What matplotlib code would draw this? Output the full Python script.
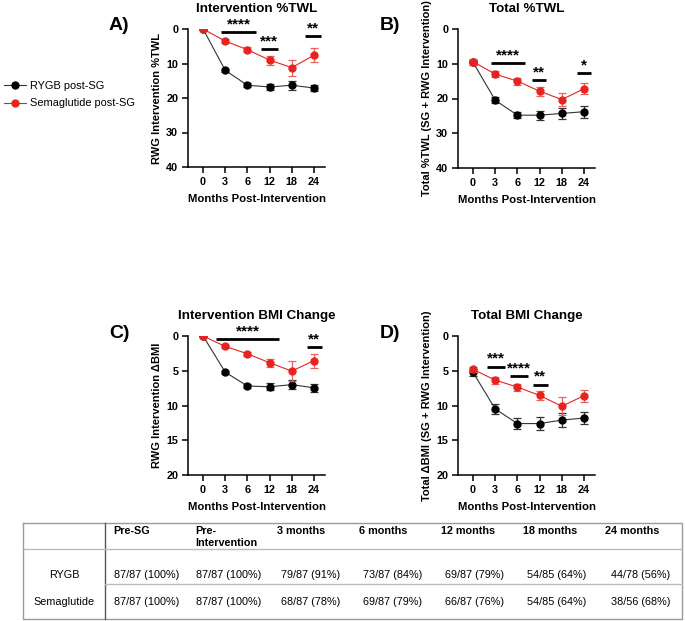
import numpy as np
import matplotlib
matplotlib.use('Agg')
import matplotlib.pyplot as plt

plt.rcParams['font.family'] = ['Liberation Sans', 'DejaVu Sans']

W, H = 685, 621

months = ['0', '3', '6', '12', '18', '24']

# panel A: intervention %TWL
a_rygb = [0, 12.0, 16.3, 16.8, 16.3, 17.1]
a_rygb_err = [0, 0.5, 0.6, 1.0, 1.3, 1.0]
a_sema = [0, 3.5, 6.0, 9.0, 11.2, 7.6]
a_sema_err = [0, 0.5, 0.7, 1.3, 2.3, 2.1]

# panel B: total %TWL
b_rygb = [9.6, 20.5, 24.8, 24.8, 24.3, 23.8]
b_rygb_err = [0.8, 0.8, 0.9, 1.3, 1.6, 1.7]
b_sema = [9.4, 13.0, 15.0, 17.9, 20.3, 17.2]
b_sema_err = [0.9, 0.9, 1.0, 1.3, 2.0, 1.6]

# panel C: intervention BMI change
c_rygb = [0, 5.2, 7.2, 7.3, 7.0, 7.45]
c_rygb_err = [0, 0.2, 0.3, 0.5, 0.6, 0.6]
c_sema = [0, 1.5, 2.55, 3.85, 5.05, 3.55]
c_sema_err = [0, 0.2, 0.3, 0.6, 1.4, 1.0]

# panel D: total BMI change
d_rygb = [5.25, 10.5, 12.6, 12.6, 12.1, 11.8]
d_rygb_err = [0.5, 0.7, 0.8, 0.9, 1.0, 0.9]
d_sema = [4.8, 6.35, 7.35, 8.55, 10.1, 8.6]
d_sema_err = [0.4, 0.5, 0.5, 0.7, 1.3, 0.9]

# significance bars: (x start, x end, y, label)
a_sig = [(0.81, 2.4, 0.8, '****'), (2.61, 3.37, 5.9, '***'), (4.6, 5.3, 2.0, '**')]
b_sig = [(0.8, 2.33, 9.9, '****'), (2.67, 3.3, 14.6, '**'), (4.67, 5.3, 12.7, '*')]
c_sig = [(0.59, 3.43, 0.48, '****'), (4.67, 5.35, 1.54, '**')]
d_sig = [(0.63, 1.43, 4.4, '***'), (1.65, 2.5, 5.8, '****'), (2.7, 3.36, 7.0, '**')]

# table
tbl_header = ['', 'Pre-SG', 'Pre-\nIntervention', '3 months', '6 months',
              '12 months', '18 months', '24 months']
tbl_rows = ['RYGB', 'Semaglutide']
tbl_rygb = ['87/87 (100%)', '87/87 (100%)', '79/87 (91%)', '73/87 (84%)',
            '69/87 (79%)', '54/85 (64%)', '44/78 (56%)']
tbl_sema = ['87/87 (100%)', '87/87 (100%)', '68/87 (78%)', '69/87 (79%)',
            '66/87 (76%)', '54/85 (64%)', '38/56 (68%)']

RED = '#e8231f'
BLK = '#000000'

fig = plt.figure(figsize=(W / 100, H / 100), dpi=100)


def rect(x0, x1, ytop, ybot):
    return [x0 / W, 1 - ybot / H, (x1 - x0) / W, (ybot - ytop) / H]


def panel(r, ymax, yticks, rygb, rygb_e, sema, sema_e, sig, title, ylabel, letter, lpos):
    ax = fig.add_axes(r)
    x = np.arange(len(months))
    ax.errorbar(x, rygb, yerr=rygb_e, color='#333333', ecolor='#333333', lw=0.8,
                elinewidth=0.9, capsize=3, capthick=0.9, marker='o', ms=5,
                mfc=BLK, mec=BLK, zorder=3)
    ax.errorbar(x, sema, yerr=sema_e, color=RED, ecolor='#e86060', lw=0.8,
                elinewidth=0.9, capsize=3, capthick=0.9, marker='o', ms=5,
                mfc=RED, mec=RED, zorder=4)
    ax.set_xlim(-0.68, 5.5)
    ax.set_ylim(ymax, 0)
    ax.set_yticks(yticks)
    ax.set_xticks(x)
    ax.set_xticklabels(months)
    for s in ['top', 'right']:
        ax.spines[s].set_visible(False)
    for s in ['left', 'bottom']:
        ax.spines[s].set_linewidth(1.1)
    ax.tick_params(width=1.1, length=4.5, labelsize=7.8, pad=2.5)
    for t in ax.get_xticklabels() + ax.get_yticklabels():
        t.set_fontweight('bold')
    ax.set_xlabel('Months Post-Intervention', fontsize=8.2, fontweight='bold', labelpad=5.5)
    ax.set_ylabel(ylabel, fontsize=8, fontweight='bold', labelpad=3)
    ax.set_title(title, fontsize=9.6, fontweight='bold', pad=12.5)
    for x0, x1, y, lab in sig:
        ax.plot([x0, x1], [y, y], color=BLK, lw=2, clip_on=False, solid_capstyle='butt')
        ax.text((x0 + x1) / 2, y - ymax * 0.005, lab, ha='center', va='bottom',
                fontsize=11, fontweight='bold', clip_on=False)
    fig.text(lpos[0] / W, 1 - lpos[1] / H, letter, fontsize=14, fontweight='bold',
             ha='left', va='center')
    return ax


axA = panel(rect(188, 325, 29, 167), 40, [0, 10, 20, 30, 40], a_rygb, a_rygb_err,
            a_sema, a_sema_err, a_sig, 'Intervention %TWL', 'RWG Intervention %TWL',
            'A)', (109, 25))
panel(rect(458, 595, 29, 168), 40, [0, 10, 20, 30, 40], b_rygb, b_rygb_err,
      b_sema, b_sema_err, b_sig, 'Total %TWL', 'Total %TWL (SG + RWG Intervention)',
      'B)', (380, 25))
panel(rect(188, 325, 336, 475), 20, [0, 5, 10, 15, 20], c_rygb, c_rygb_err,
      c_sema, c_sema_err, c_sig, 'Intervention BMI Change', 'RWG Intervention \u0394BMI',
      'C)', (109, 333))
panel(rect(458, 595, 336, 475), 20, [0, 5, 10, 15, 20], d_rygb, d_rygb_err,
      d_sema, d_sema_err, d_sig, 'Total BMI Change', 'Total \u0394BMI (SG + RWG Intervention)',
      'D)', (380, 333))

# legend
h1, = axA.plot([], [], color='#333333', lw=0.8, marker='o', ms=5, mfc=BLK, mec=BLK)
h2, = axA.plot([], [], color=RED, lw=0.8, marker='o', ms=5, mfc=RED, mec=RED)
fig.legend([h1, h2], ['RYGB post-SG', 'Semaglutide post-SG'], loc='center left',
           bbox_to_anchor=(-0.008, 1 - 94.5 / H), frameon=False, fontsize=7.9,
           handlelength=2.0, handletextpad=0.3, labelspacing=0.7)

# table drawn on an overlay axes in pixel coordinates
tax = fig.add_axes([0, 0, 1, 1])
tax.set_xlim(0, W)
tax.set_ylim(H, 0)
tax.axis('off')
cols = [23, 105, 187, 269, 351, 433, 515, 597, 682]
top, hline, rline, bot = 523, 549, 584, 619
tax.plot([cols[0], cols[-1], cols[-1], cols[0], cols[0]], [top, top, bot, bot, top],
         color='#9a9a9a', lw=1.0)
tax.plot([cols[1], cols[1]], [top, bot], color='#555555', lw=1.0)
tax.plot([cols[0], cols[-1]], [hline, hline], color='#bbbbbb', lw=1.0)
tax.plot([cols[1], cols[-1]], [rline, rline], color='#bbbbbb', lw=1.0)
for i, h in enumerate(tbl_header):
    if h:
        tax.text(cols[i] + 8, top + 2.5, h, fontsize=7.8, fontweight='bold',
                 ha='left', va='top', linespacing=1.3)
for j, (name, vals) in enumerate(zip(tbl_rows, [tbl_rygb, tbl_sema])):
    yy = [575.5, 602][j]
    tax.text((cols[0] + cols[1]) / 2, yy, name, fontsize=7.8, ha='center', va='center')
    for i, v in enumerate(vals):
        tax.text((cols[i + 1] + cols[i + 2]) / 2 + 1, yy, v, fontsize=7.8,
                 ha='center', va='center')

fig.savefig('out.png', dpi=100)
